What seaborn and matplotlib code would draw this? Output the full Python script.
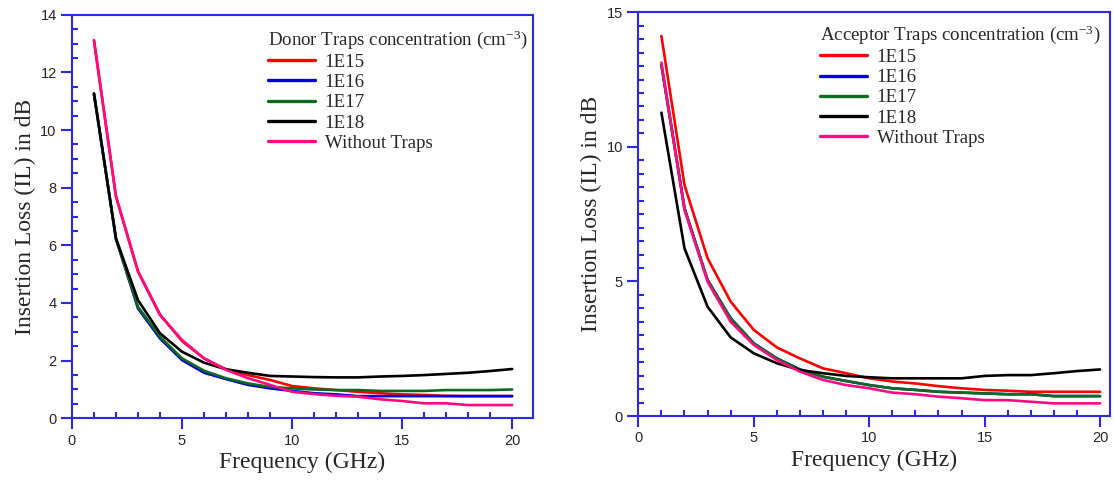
import numpy as np
import pandas as pd
import matplotlib.pyplot as plt
import seaborn as sns
from matplotlib.ticker import MultipleLocator

plt.switch_backend("Agg")

# frequency points (GHz)
freq = list(range(1, 21))

series_names = ["1E15", "1E16", "1E17", "1E18", "Without Traps"]

# donor traps (left panel), insertion loss in dB
donor_1e15 = [13.10, 7.70, 5.10, 3.60, 2.68, 2.08, 1.70, 1.50, 1.33, 1.12,
              1.04, 0.98, 0.92, 0.87, 0.83, 0.81, 0.78, 0.77, 0.77, 0.77]
donor_1e16 = [11.25, 6.22, 3.81, 2.77, 2.02, 1.58, 1.36, 1.16, 1.04, 0.95,
              0.87, 0.83, 0.77, 0.77, 0.77, 0.77, 0.77, 0.77, 0.77, 0.77]
donor_1e17 = [11.25, 6.22, 3.87, 2.83, 2.08, 1.65, 1.39, 1.21, 1.09, 1.04,
              1.00, 0.98, 0.98, 0.95, 0.95, 0.95, 0.98, 0.98, 0.98, 1.00]
donor_1e18 = [11.27, 6.24, 4.10, 2.95, 2.31, 1.93, 1.70, 1.58, 1.47, 1.45,
              1.43, 1.42, 1.42, 1.45, 1.47, 1.50, 1.54, 1.58, 1.64, 1.71]
donor_none = [13.12, 7.69, 5.09, 3.58, 2.72, 2.08, 1.68, 1.39, 1.16, 0.92,
              0.84, 0.78, 0.75, 0.66, 0.60, 0.52, 0.52, 0.46, 0.46, 0.46]

# acceptor traps (right panel)
acc_1e15 = [14.12, 8.58, 5.86, 4.25, 3.20, 2.55, 2.14, 1.77, 1.59, 1.40,
            1.28, 1.21, 1.11, 1.03, 0.97, 0.94, 0.90, 0.90, 0.90, 0.90]
acc_1e16 = [13.04, 7.72, 5.05, 3.63, 2.70, 2.14, 1.73, 1.46, 1.30, 1.15,
            1.03, 0.97, 0.90, 0.87, 0.84, 0.81, 0.81, 0.74, 0.74, 0.74]
acc_1e17 = [13.04, 7.72, 5.05, 3.63, 2.70, 2.14, 1.73, 1.46, 1.30, 1.15,
            1.03, 0.97, 0.90, 0.87, 0.84, 0.81, 0.81, 0.74, 0.74, 0.74]
acc_1e18 = [11.27, 6.23, 4.06, 2.92, 2.33, 1.96, 1.71, 1.59, 1.49, 1.44,
            1.40, 1.40, 1.40, 1.40, 1.49, 1.52, 1.52, 1.59, 1.67, 1.73]
acc_none = [13.13, 7.66, 4.99, 3.50, 2.64, 2.08, 1.65, 1.34, 1.15, 1.03,
            0.87, 0.81, 0.72, 0.66, 0.59, 0.59, 0.53, 0.47, 0.47, 0.47]

colors = {"1E15": "#ff0000", "1E16": "#0000e0", "1E17": "#0f6b1c",
          "1E18": "#000000", "Without Traps": "#ff0a82"}


def long_table(curves):
    rows = []
    for name, vals in zip(series_names, curves):
        for f, v in zip(freq, vals):
            rows.append({"freq": f, "il": v, "series": name})
    return pd.DataFrame(rows)


sns.set_style("white")
plt.rcParams["font.family"] = ["Liberation Serif", "DejaVu Serif"]
plt.rcParams["mathtext.fontset"] = "custom"
plt.rcParams["mathtext.rm"] = "Liberation Serif"
plt.rcParams["mathtext.default"] = "regular"

axis_blue = "#2a2ae6"

fig = plt.figure(figsize=(11.14, 4.8), dpi=100)
ax1 = fig.add_axes([0.0646, 0.1285, 0.4139, 0.8409])
ax2 = fig.add_axes([0.5730, 0.1333, 0.4234, 0.8411])

panels = [
    (ax1, [donor_1e15, donor_1e16, donor_1e17, donor_1e18, donor_none],
     "Donor Traps concentration (cm$^{-3}$)", 20.95, 14, 2, (0.425, 0.967)),
    (ax2, [acc_1e15, acc_1e16, acc_1e17, acc_1e18, acc_none],
     "Acceptor Traps concentration (cm$^{-3}$)", 20.43, 15, 5, (0.385, 0.973)),
]

for ax, curves, title, xmax, ymax, ystep, anchor in panels:
    df = long_table(curves)
    sns.lineplot(data=df, x="freq", y="il", hue="series", hue_order=series_names,
                 palette=colors, linewidth=1.9, ax=ax)
    ax.set_xlim(0, xmax)
    ax.set_ylim(0, ymax)
    ax.xaxis.set_major_locator(MultipleLocator(5))
    ax.xaxis.set_minor_locator(MultipleLocator(1))
    ax.yaxis.set_major_locator(MultipleLocator(ystep))
    ax.yaxis.set_minor_locator(MultipleLocator(0.5))
    ax.tick_params(which="major", direction="out", length=8, width=1.5,
                   color=axis_blue, labelsize=10.5, pad=3,
                   bottom=True, left=True, top=False, right=False)
    ax.tick_params(which="minor", direction="in", length=4, width=1.5,
                   color=axis_blue, bottom=True, left=True, top=False, right=False)
    for lab in ax.get_xticklabels() + ax.get_yticklabels():
        lab.set_fontfamily(["Liberation Sans", "DejaVu Sans"])
    for sp in ax.spines.values():
        sp.set_color(axis_blue)
        sp.set_linewidth(1.5)
    ax.set_xlabel("Frequency (GHz)", fontsize=17, labelpad=3)
    ax.set_ylabel("Insertion Loss (IL) in dB", fontsize=17, labelpad=3)
    handles, labels = ax.get_legend_handles_labels()
    leg = ax.legend(handles, labels, title=title, loc="upper left",
                    bbox_to_anchor=anchor, frameon=False, fontsize=13.6,
                    title_fontsize=13.6, alignment="left", borderpad=0,
                    handlelength=2.5, handletextpad=0.5, labelspacing=0.16,
                    borderaxespad=0)
    for line in leg.get_lines():
        line.set_linewidth(2.4)

plt.savefig("out.png", dpi=100)
plt.close()
